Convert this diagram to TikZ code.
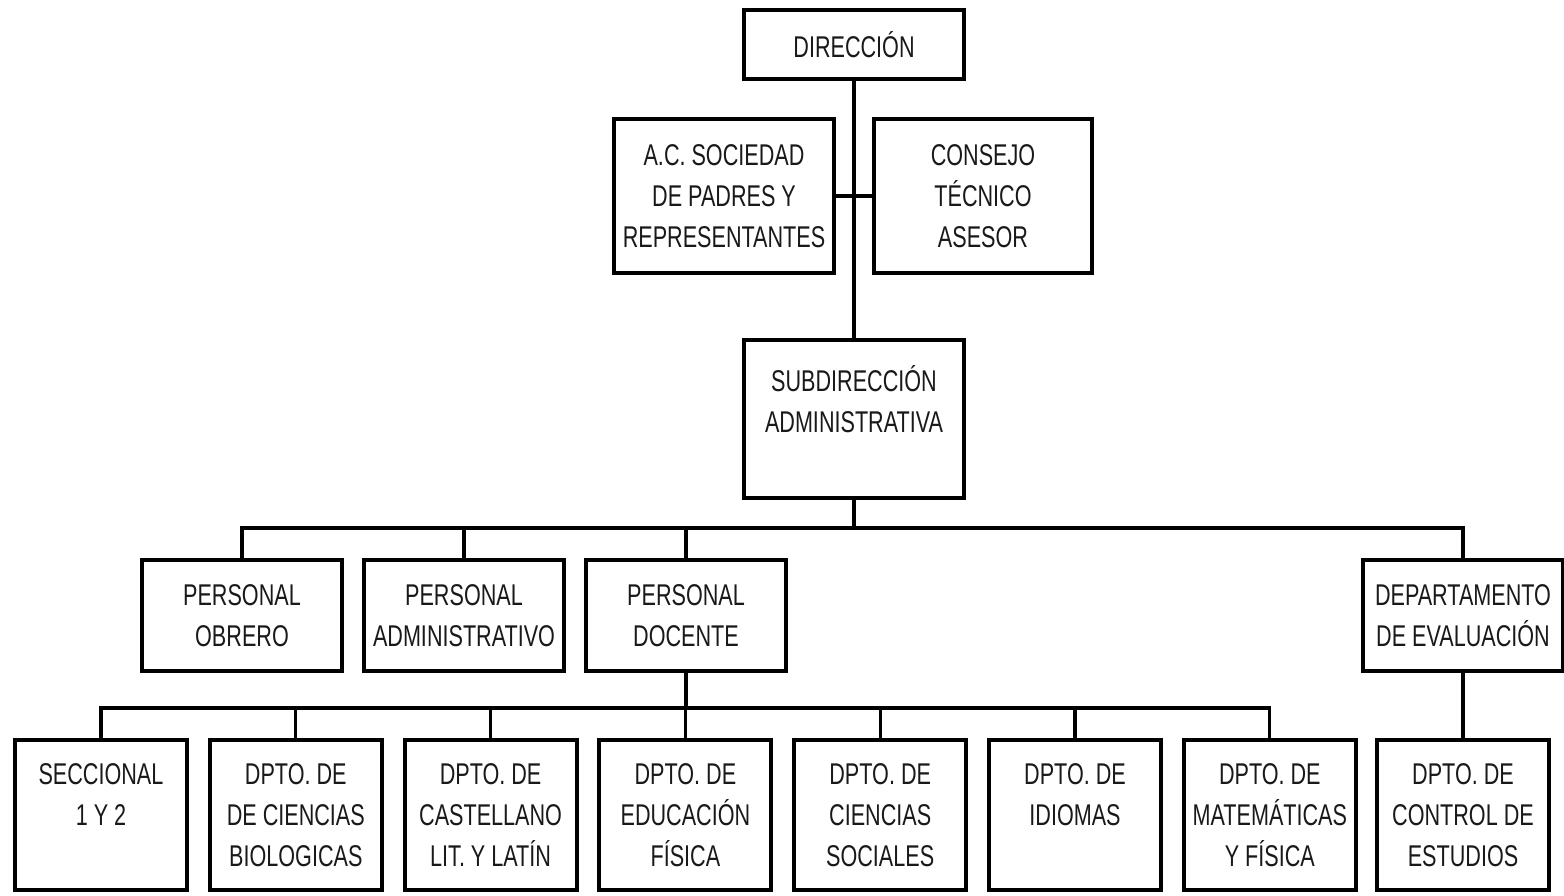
\documentclass[tikz,border=0pt]{standalone}
\usepackage{fontspec}
\setmainfont{Liberation Sans}[FakeStretch=0.72]
\usetikzlibrary{positioning}

\tikzset{
	box/.style={draw, line width=2pt, align=center, inner sep=0pt, text=black!90, font=\fontsize{15}{20.5}\selectfont},
	staff/.style={box, minimum width=100pt, minimum height=55.5pt},
	dept/.style={box, minimum width=86pt, minimum height=75pt},
}

\begin{document}
\begin{tikzpicture}[x=0.5pt, y=-0.5pt, on grid, line width=1.6pt]
	\path[use as bounding box, fill=white] (0,0) rectangle (1564,895);

	\node[box, minimum width=110pt, minimum height=34.5pt] (0) at (854,44.5) {DIRECCIÓN};
	\node[box, minimum width=110pt, minimum height=77pt] (1) at (724,196) {A.C. SOCIEDAD\\DE PADRES Y\\REPRESENTANTES};
	\node[box, minimum width=109pt, minimum height=77pt] (2) at (983,196) {CONSEJO\\TÉCNICO\\ASESOR};
	\node[box, minimum width=110pt, minimum height=79pt] (3) at (854,419) {SUBDIRECCIÓN\\ADMINISTRATIVA\\\mbox{}};

	\node[staff] (4) at (242,615.5) {PERSONAL\\OBRERO};
	\node[staff, right=111pt of 4] (5) {PERSONAL\\ADMINISTRATIVO};
	\node[staff, right=111pt of 5] (6) {PERSONAL\\DOCENTE};
	\node[staff, right=388.5pt of 6] (7) {DEPARTAMENTO\\DE EVALUACIÓN};

	\node[dept] (8) at (101,815) {SECCIONAL\\1 Y 2\\\mbox{}};
	\node[dept, right=97.4pt of 8] (9) {DPTO. DE\\DE CIENCIAS\\BIOLOGICAS};
	\node[dept, right=97.4pt of 9] (10) {DPTO. DE\\CASTELLANO\\LIT. Y LATÍN};
	\node[dept, right=97.4pt of 10] (11) {DPTO. DE\\EDUCACIÓN\\FÍSICA};
	\node[dept, right=97.4pt of 11] (12) {DPTO. DE\\CIENCIAS\\SOCIALES};
	\node[dept, right=97.4pt of 12] (13) {DPTO. DE\\IDIOMAS\\\mbox{}};
	\node[dept, right=97.4pt of 13] (14) {DPTO. DE\\MATEMÁTICAS\\Y FÍSICA};
	\node[dept, below=99.75pt of 7] (15) {DPTO. DE\\CONTROL DE\\ESTUDIOS};

	\coordinate (a) at (854,528);
	\coordinate (b) at (686,708);

	\draw (0) -- (3);
	\draw (1) -- (2);
	\draw (3) -- (a);
	\draw (4) |- (a) -| (7);
	\draw (5) -- (5 |- a);
	\draw (6) -- (6 |- a);
	\draw (6) -- (b);
	\draw (8) |- (b) -| (14);
	\draw (9) -- (9 |- b);
	\draw (10) -- (10 |- b);
	\draw (11) -- (11 |- b);
	\draw (12) -- (12 |- b);
	\draw (13) -- (13 |- b);
	\draw (7) -- (15);
\end{tikzpicture}
\end{document}
